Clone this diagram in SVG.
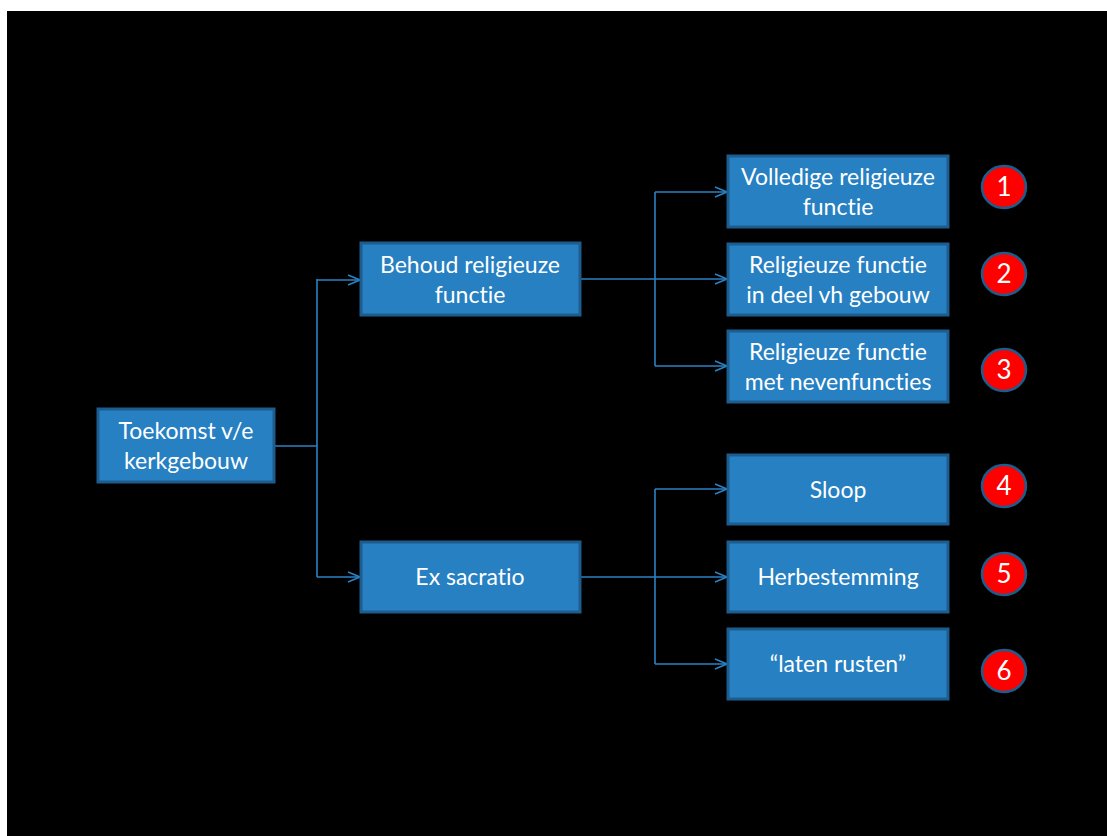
<svg xmlns="http://www.w3.org/2000/svg" width="1107" height="836" viewBox="0 0 1107 836">
<defs>
<style>
.box{fill:#2680c2;stroke:#1c5d8e;stroke-width:3}
.t{font-family:Lato,"Liberation Sans",sans-serif;font-size:23px;fill:#ffffff;text-anchor:middle;font-variant-ligatures:none;font-feature-settings:"liga" 0}
.c{fill:#ff0000;stroke:#1c5d8e;stroke-width:2.5}
.n{font-family:Lato,"Liberation Sans",sans-serif;font-size:26px;fill:#ffffff;text-anchor:middle}
.ln{fill:none;stroke:#2a82c4;stroke-width:1.6}
</style>
<marker id="ar" markerWidth="14" markerHeight="12" refX="13" refY="6" orient="auto" markerUnits="userSpaceOnUse">
<path d="M1,1 L13,6 L1,11" fill="none" stroke="#2a82c4" stroke-width="1.6"/>
</marker>
</defs>
<rect x="0" y="0" width="1107" height="836" fill="#ffffff"/>
<rect x="7" y="11" width="1100" height="825" fill="#000000"/>
<g id="connectors">
<path class="ln" d="M274,446 H317"/>
<path class="ln" d="M317,279 V577"/>
<path class="ln" d="M317,280 H360" marker-end="url(#ar)"/>
<path class="ln" d="M317,577 H360" marker-end="url(#ar)"/>
<path class="ln" d="M580,279 H727" marker-end="url(#ar)"/>
<path class="ln" d="M655,192 V366"/>
<path class="ln" d="M655,192 H727" marker-end="url(#ar)"/>
<path class="ln" d="M655,366 H727" marker-end="url(#ar)"/>
<path class="ln" d="M580,577 H727" marker-end="url(#ar)"/>
<path class="ln" d="M655,489 V664"/>
<path class="ln" d="M655,489 H727" marker-end="url(#ar)"/>
<path class="ln" d="M655,664 H727" marker-end="url(#ar)"/>
</g>
<g id="n-toekomst"><rect class="box" x="98" y="409" width="176" height="73"/><text class="t" x="186" y="439">Toekomst v/e</text><text class="t" x="186" y="469">kerkgebouw</text></g>
<g id="n-behoud"><rect class="box" x="361" y="243" width="219" height="72"/><text class="t" x="470" y="273">Behoud religieuze</text><text class="t" x="470" y="303">functie</text></g>
<g id="n-ex"><rect class="box" x="361" y="542" width="219" height="70"/><text class="t" x="470" y="585">Ex sacratio</text></g>
<g id="n-1"><rect class="box" x="728" y="156" width="220" height="71"/><text class="t" x="838" y="185">Volledige religieuze</text><text class="t" x="838" y="215">functie</text></g>
<g id="n-2"><rect class="box" x="728" y="244" width="220" height="71"/><text class="t" x="838" y="273">Religieuze functie</text><text class="t" x="838" y="303">in deel vh gebouw</text></g>
<g id="n-3"><rect class="box" x="728" y="331" width="220" height="71"/><text class="t" x="838" y="360">Religieuze functie</text><text class="t" x="838" y="390">met nevenfuncties</text></g>
<g id="n-4"><rect class="box" x="728" y="455" width="220" height="69"/><text class="t" x="838" y="498">Sloop</text></g>
<g id="n-5"><rect class="box" x="728" y="542" width="220" height="70"/><text class="t" x="838" y="585">Herbestemming</text></g>
<g id="n-6"><rect class="box" x="728" y="629" width="220" height="70"/><text class="t" x="838" y="672">“laten rusten”</text></g>
<g id="b-1"><ellipse class="c" cx="1004" cy="187" rx="22" ry="21"/><text class="n" x="1004" y="196">1</text></g>
<g id="b-2"><ellipse class="c" cx="1004" cy="274" rx="22" ry="21"/><text class="n" x="1004" y="283">2</text></g>
<g id="b-3"><ellipse class="c" cx="1004" cy="370" rx="22" ry="21"/><text class="n" x="1004" y="379">3</text></g>
<g id="b-4"><ellipse class="c" cx="1004" cy="486" rx="22" ry="21"/><text class="n" x="1004" y="495">4</text></g>
<g id="b-5"><ellipse class="c" cx="1004" cy="574" rx="22" ry="21"/><text class="n" x="1004" y="583">5</text></g>
<g id="b-6"><ellipse class="c" cx="1004" cy="671" rx="22" ry="21"/><text class="n" x="1004" y="680">6</text></g>
</svg>
